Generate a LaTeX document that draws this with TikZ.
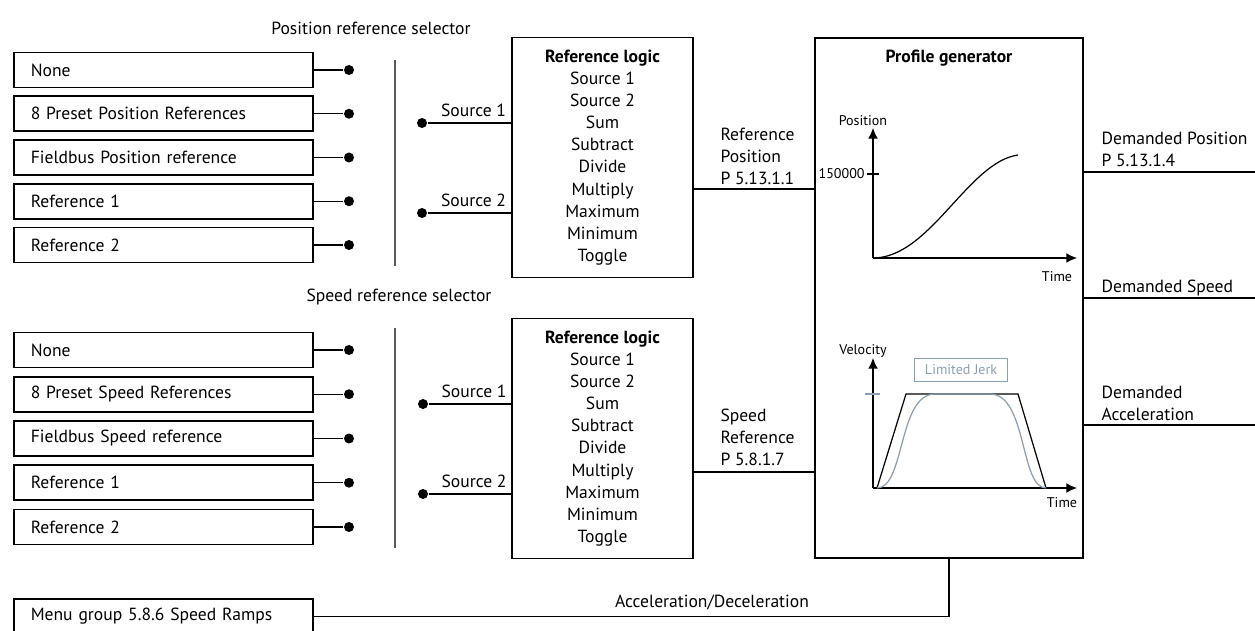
\documentclass[tikz,border=0pt]{standalone}
\usepackage{fontspec}
\setmainfont{PT Sans}
\usetikzlibrary{arrows.meta}
\definecolor{jerkgray}{RGB}{138,160,178}
\definecolor{sepgray}{RGB}{90,90,90}
\tikzset{
  lbl/.style={inner sep=0pt,font=\fontsize{10}{12.6}\selectfont},
  boldlbl/.style={inner sep=0pt,font=\fontsize{10}{12.6}\selectfont\bfseries},
  small/.style={inner sep=1pt,font=\fontsize{8}{9.6}\selectfont},
  srcbox/.style={draw,line width=0.9pt,anchor=west,minimum width=5.98cm,minimum height=0.7cm,
    text width=5.3cm,inner xsep=0.34cm,align=left,font=\fontsize{10}{12.6}\selectfont},
  dot/.style={circle,fill,inner sep=0pt,minimum size=0.2cm},
  logicbox/.style={draw,line width=0.9pt,minimum width=3.62cm,minimum height=4.8cm,align=center,
    inner sep=0pt,font=\fontsize{10}{12.6}\selectfont},
}
\begin{document}
\begin{tikzpicture}[x=0.02cm,y=-0.02cm,line width=0.7pt,>={Latex[length=6pt,width=5.5pt]}]
\useasboundingbox (0,0) rectangle (1255,631);
% profile generator
\node[draw,line width=0.9pt,minimum width=5.36cm,minimum height=10.4cm,inner sep=0pt] (prof) at (949,298) {};
\node[boldlbl] (proftitle) at (949,58) {Profile generator};
% position reference selector
\node[lbl] (phead) at (371,28) {Position reference selector};
\foreach \txt [count=\i] in {None,8 Preset Position References,Fieldbus Position reference,Reference 1,Reference 2}{
  \node[srcbox] (pin\i) at (13,{70+43.75*(\i-1)}) {\txt};
  \node[dot] (pdot\i) at (349,{70+43.75*(\i-1)}) {};
  \draw (pin\i) -- (pdot\i);
}
\draw[sepgray,line width=0.9pt] (395,60) -- (395,266);
\node[logicbox] (plogic) at (602.5,157.5) {\textbf{Reference logic}\\Source 1\\Source 2\\Sum\\Subtract\\Divide\\Multiply\\Maximum\\Minimum\\Toggle};
\node[dot] (psrc1) at (422,123) {};
\node[dot] (psrc2) at (422,213) {};
\draw (psrc1) -- (psrc1 -| plogic.west) node[lbl,above=3pt,pos=0.55] {Source 1};
\draw (psrc2) -- (psrc2 -| plogic.west) node[lbl,above=3pt,pos=0.55] {Source 2};
\coordinate (prefout) at (693,189);
\draw (prefout) -- (prefout -| prof.west);
\node[lbl,align=left,anchor=north west] (preflbl) at (720,127) {Reference\\Position\\P 5.13.1.1};
% speed reference selector
\node[lbl] (shead) at (399,297) {Speed reference selector};
\foreach \txt [count=\i] in {None,8 Preset Speed References,Fieldbus Speed reference,Reference 1,Reference 2}{
  \node[srcbox] (sin\i) at (13,{350+44.25*(\i-1)}) {\txt};
  \node[dot] (sdot\i) at (349,{350+44.25*(\i-1)}) {};
  \draw (sin\i) -- (sdot\i);
}
\draw[sepgray,line width=0.9pt] (395,328) -- (395,548);
\node[logicbox] (slogic) at (602.5,438.5) {\textbf{Reference logic}\\Source 1\\Source 2\\Sum\\Subtract\\Divide\\Multiply\\Maximum\\Minimum\\Toggle};
\node[dot] (ssrc1) at (423,404) {};
\node[dot] (ssrc2) at (423,494) {};
\draw (ssrc1) -- (ssrc1 -| slogic.west) node[lbl,above=3pt,pos=0.55] {Source 1};
\draw (ssrc2) -- (ssrc2 -| slogic.west) node[lbl,above=3pt,pos=0.55] {Source 2};
\coordinate (srefout) at (693,472);
\draw (srefout) -- (srefout -| prof.west);
\node[lbl,align=left,anchor=north west] (sreflbl) at (720,408) {Speed\\Reference\\P 5.8.1.7};
% position plot
\draw[->] (873,258) -- (873,128);
\draw[->] (873,258) -- (1077,258);
\draw (867,174) -- (879,174);
\node[small,anchor=east] (ptick) at (867,174) {150000};
\node[small] (paxis) at (863,121) {Position};
\node[small] (ptime) at (1057,277) {Time};
\draw (873,258) .. controls (930,258) and (968,162) .. (1018,155);
% velocity plot
\draw[->] (873,488) -- (873,358);
\draw[->] (873,488) -- (1077,488);
\draw[jerkgray] (865,394) -- (880,394);
\draw (877,488) -- (906,394) -- (1018,394) -- (1046,488);
\draw[jerkgray] (877,488) .. controls (905,488) and (898,394) .. (935,394) -- (990,394)
  .. controls (1027,394) and (1020,488) .. (1046,488);
\node[small,draw=jerkgray,text=jerkgray,minimum width=1.86cm,minimum height=0.46cm] (jerk) at (961,370) {Limited Jerk};
\node[small] (vaxis) at (863,351) {Velocity};
\node[small] (vtime) at (1062,503) {Time};
% outputs
\coordinate (dpos) at (1255,172);
\coordinate (dspd) at (1255,298);
\coordinate (dacc) at (1255,425);
\draw (prof.east |- dpos) -- (dpos);
\draw (prof.east |- dspd) -- (dspd);
\draw (prof.east |- dacc) -- (dacc);
\node[lbl,align=left,anchor=north west] (dposlbl) at (1101,131) {Demanded Position\\P 5.13.1.4};
\node[lbl,align=left,anchor=north west] (dspdlbl) at (1101,279) {Demanded Speed};
\node[lbl,align=left,anchor=north west] (dacclbl) at (1101,385) {Demanded\\Acceleration};
% speed ramps
\node[srcbox,anchor=north west] (ramps) at (13,598) {Menu group 5.8.6 Speed Ramps};
\draw (prof.south) |- (ramps.east);
\node[lbl] (ramplbl) at (712,602) {Acceleration/Deceleration};
\end{tikzpicture}
\end{document}
